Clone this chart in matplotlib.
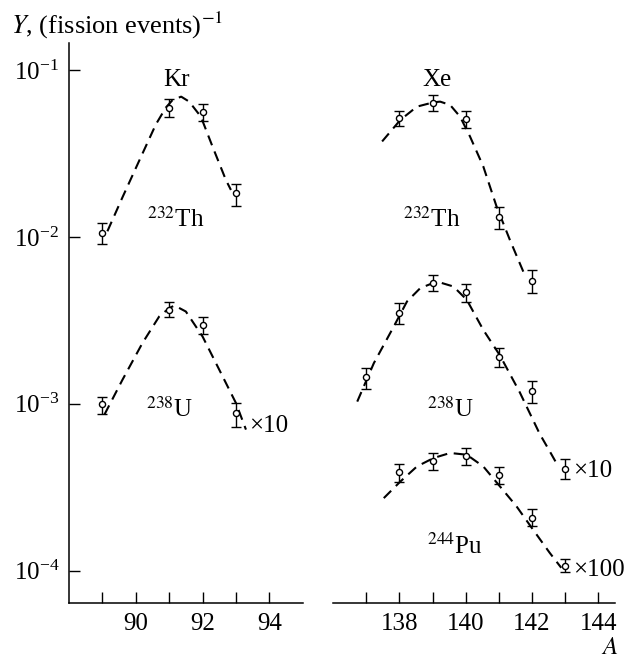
import matplotlib
matplotlib.use("Agg")
import matplotlib.pyplot as plt
from matplotlib.ticker import FixedLocator, NullLocator, LogFormatterSciNotation

plt.rcParams['font.family'] = ['Liberation Serif', 'DejaVu Serif']
plt.rcParams['mathtext.fontset'] = 'stix'
plt.rcParams['font.size'] = 18

# Kr yields (mass numbers 89..93)
kr_A = [89, 91, 92, 93]
kr_th_y = [0.0105, 0.059, 0.0558, 0.0183]
kr_th_lo = [0.0090, 0.0525, 0.0497, 0.0154]
kr_th_hi = [0.0121, 0.0668, 0.0626, 0.0208]
kr_u_y = [0.00099, 0.00366, 0.00297, 0.00088]
kr_u_lo = [0.00087, 0.00330, 0.00263, 0.00073]
kr_u_hi = [0.00110, 0.00409, 0.00330, 0.00101]

# Xe yields
xe_th_A = [138, 139, 140, 141, 142]
xe_th_y = [0.0518, 0.0637, 0.0509, 0.0131, 0.00547]
xe_th_lo = [0.0464, 0.0571, 0.0448, 0.0111, 0.00464]
xe_th_hi = [0.0571, 0.0711, 0.0571, 0.0152, 0.00635]

xe_u_A = [137, 138, 139, 140, 141, 142, 143]
xe_u_y = [0.00144, 0.00349, 0.00528, 0.00465, 0.0019, 0.00119, 0.000408]
xe_u_lo = [0.00122, 0.00302, 0.00471, 0.00406, 0.00167, 0.00101, 0.000356]
xe_u_hi = [0.00164, 0.00401, 0.00593, 0.00524, 0.00216, 0.00137, 0.000467]

xe_pu_A = [138, 139, 140, 141, 142, 143]
xe_pu_y = [0.000388, 0.000456, 0.000489, 0.000376, 0.000208, 0.000106]
xe_pu_lo = [0.000342, 0.000403, 0.000432, 0.00033, 0.000185, 0.0000977]
xe_pu_hi = [0.000436, 0.000506, 0.000545, 0.000417, 0.000233, 0.000117]

# dashed fit curves
kr_th_cA = [89.15, 89.61, 90.11, 90.6, 90.9, 91.1, 91.36, 91.6, 91.95, 92.3, 92.7, 92.85]
kr_th_cy = [0.0108, 0.0174, 0.0288, 0.0471, 0.0595, 0.0660, 0.0692, 0.0646, 0.0525, 0.0347, 0.0219, 0.0191]
kr_u_cA = [89.06, 89.6, 90.2, 90.7, 91.0, 91.16, 91.5, 92.0, 92.5, 93.0, 93.3]
kr_u_cy = [0.00086, 0.00139, 0.00231, 0.00333, 0.00374, 0.00388, 0.00357, 0.00253, 0.0016, 0.00101, 0.0007]
xe_th_cA = [137.48, 138.03, 138.53, 139.03, 139.23, 139.53, 139.83, 140.13, 140.53, 140.93, 141.33, 141.78]
xe_th_cy = [0.0373, 0.0502, 0.0603, 0.064, 0.0646, 0.0617, 0.0525, 0.0399, 0.0264, 0.0152, 0.0096, 0.0059]
xe_u_cA = [136.73, 137.23, 137.83, 138.23, 138.63, 139.13, 139.63, 140.03, 140.53, 141.03, 141.63, 142.23, 142.53, 142.79]
xe_u_cy = [0.00103, 0.00175, 0.0029, 0.0041, 0.00493, 0.0054, 0.00504, 0.0042, 0.00277, 0.00195, 0.00117, 0.00066, 0.00052, 0.000421]
xe_pu_cA = [137.53, 138.03, 138.53, 139.03, 139.53, 140.03, 140.53, 141.03, 141.53, 142.03, 142.53, 142.88]
xe_pu_cy = [0.000272, 0.000342, 0.000421, 0.000473, 0.000507, 0.000495, 0.000421, 0.00032, 0.000243, 0.000176, 0.000128, 0.000104]

y_ticks = [1e-4, 1e-3, 1e-2, 1e-1]

fig = plt.figure(figsize=(6.3, 6.58), dpi=100)
axL = fig.add_axes([0.1095, 0.0836, 0.371, 0.851])
axR = fig.add_axes([0.5286, 0.0836, 0.4476, 0.851], sharey=axL)

def draw_set(ax, A, y, lo, hi):
    err = [[v - l for v, l in zip(y, lo)], [h - v for v, h in zip(y, hi)]]
    ax.errorbar(A, y, yerr=err, fmt='o', ms=4.4, mfc='white', mec='black', mew=1.0,
                ecolor='black', elinewidth=1.0, capsize=3.5, capthick=1.0, zorder=3)

def draw_curve(ax, A, y):
    ax.plot(A, y, color='black', lw=1.5, ls=(0, (5, 3.2)), zorder=2)

draw_curve(axL, kr_th_cA, kr_th_cy)
draw_curve(axL, kr_u_cA, kr_u_cy)
draw_set(axL, kr_A, kr_th_y, kr_th_lo, kr_th_hi)
draw_set(axL, kr_A, kr_u_y, kr_u_lo, kr_u_hi)

draw_curve(axR, xe_th_cA, xe_th_cy)
draw_curve(axR, xe_u_cA, xe_u_cy)
draw_curve(axR, xe_pu_cA, xe_pu_cy)
draw_set(axR, xe_th_A, xe_th_y, xe_th_lo, xe_th_hi)
draw_set(axR, xe_u_A, xe_u_y, xe_u_lo, xe_u_hi)
draw_set(axR, xe_pu_A, xe_pu_y, xe_pu_lo, xe_pu_hi)

axL.set_yscale('log')
axL.set_ylim(6.4e-5, 0.145)
axL.set_xlim(88, 95)
axR.set_xlim(136, 144.5)

for ax in (axL, axR):
    ax.spines['top'].set_visible(False)
    ax.spines['right'].set_visible(False)
    ax.spines['bottom'].set_linewidth(1.1)
    ax.spines['left'].set_linewidth(1.1)
    ax.tick_params(direction='in', length=8, width=1.0, labelsize=18)
    ax.tick_params(axis='x', pad=7)
    ax.tick_params(axis='y', pad=7)

axL.xaxis.set_major_locator(FixedLocator(list(range(89, 95))))
axL.set_xticklabels(['', '90', '', '92', '', '94'])
axR.xaxis.set_major_locator(FixedLocator(list(range(137, 145))))
axR.set_xticklabels(['', '138', '', '140', '', '142', '', '144'])

axL.yaxis.set_major_locator(FixedLocator(y_ticks))
axL.yaxis.set_minor_locator(NullLocator())
axL.yaxis.set_major_formatter(LogFormatterSciNotation())
axR.spines['left'].set_visible(False)
axR.tick_params(axis='y', left=False, labelleft=False)

# labels
axL.text(91.22, 0.0871, 'Kr', ha='center', va='center')
axR.text(139.13, 0.0871, 'Xe', ha='center', va='center')
axL.text(91.19, 0.01264, r'$^{232}$Th', ha='center', va='center')
axR.text(138.96, 0.01264, r'$^{232}$Th', ha='center', va='center')
axL.text(91.0, 0.00092, r'$^{238}$U', ha='center', va='center')
axR.text(139.53, 0.00092, r'$^{238}$U', ha='center', va='center')
axR.text(139.67, 0.00014, r'$^{244}$Pu', ha='center', va='center')
axL.text(93.4, 0.000738, '×10', ha='left', va='center')
axR.text(143.23, 0.000394, '×10', ha='left', va='center')
axR.text(143.23, 0.000101, '×100', ha='left', va='center', clip_on=False)

fig.text(0.018, 0.962, r'$Y$, (fission events)$^{-1}$', ha='left', va='center', fontsize=19)
fig.text(0.968, 0.0152, r'$A$', ha='center', va='center', fontsize=18)

fig.savefig('out.png', dpi=100)
